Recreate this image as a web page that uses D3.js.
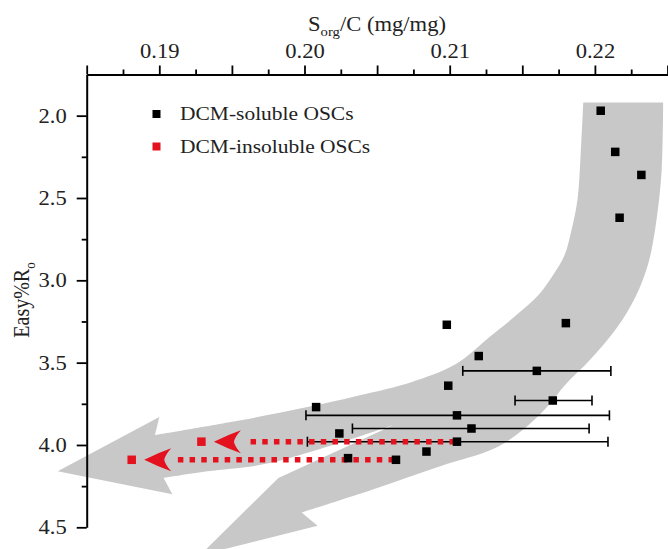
<!DOCTYPE html>
<html>
<head>
<meta charset="utf-8">
<script src="https://cdn.jsdelivr.net/npm/d3@7"></script>
<style>
    body { margin: 0; background: #fff; }
    svg { display: block; font-family: 'Liberation Serif', 'Times New Roman', serif; }
</style>
</head>
<body>
<div id="chart"></div>
<script>
// Black squares: DCM-soluble OSCs
const solubleX = [0.2204, 0.2214, 0.2232, 0.2217, 0.2180, 0.2098, 0.2120, 0.2160, 0.2099,
    0.2171, 0.2008, 0.2105, 0.2115, 0.2024, 0.2105, 0.2084, 0.2030, 0.2063];
const solubleY = [1.97, 2.22, 2.36, 2.62, 3.26, 3.27, 3.46, 3.55, 3.64,
    3.73, 3.77, 3.82, 3.90, 3.93, 3.98, 4.04, 4.08, 4.09];
// horizontal error bars (null = none)
const errLow = [null, null, null, null, null, null, null, 0.2109, null,
    0.2145, null, 0.2001, 0.2033, null, 0.2002, null, null, null];
const errHigh = [null, null, null, null, null, null, null, 0.2211, null,
    0.2198, null, 0.2210, 0.2196, null, 0.2209, null, null, null];

// Red squares: DCM-insoluble OSCs, and the soluble point each one is shifted from
const insolubleX = [0.1929, 0.1881];
const insolubleY = [3.98, 4.09];
const shiftedFrom = [14, 17];

// grey trend band (data units), traced clockwise from top-left:
// 0-1 top, 1-14 outer edge, 15-17 lower arrow head, 18-21 notch and lower shaft,
// 22-24 left arrow head, 25-38 inner edge
const bandX = [0.2192, 0.2247, 0.2246, 0.2242, 0.2237, 0.2228, 0.2215, 0.2197, 0.2179, 0.2168,
    0.2150, 0.2131, 0.2093, 0.2047, 0.1998, 0.2009, 0.1928, 0.1982, 0.2061, 0.1976,
    0.1933, 0.1903, 0.1909, 0.1830, 0.1900, 0.1897, 0.1956, 0.2002, 0.2047, 0.2073,
    0.2104, 0.2128, 0.2146, 0.2161, 0.2171, 0.2179, 0.2184, 0.2188, 0.2190];
const bandY = [1.92, 1.92, 2.33, 2.66, 2.89, 3.10, 3.29, 3.48, 3.64, 3.76,
    3.91, 4.02, 4.13, 4.27, 4.41, 4.49, 4.67, 4.20, 3.88, 4.11,
    4.16, 4.20, 4.30, 4.16, 3.83, 3.94, 3.85, 3.77, 3.68, 3.62,
    3.51, 3.34, 3.21, 3.09, 2.97, 2.85, 2.69, 2.51, 2.27];

const xMajor = [0.185, 0.19, 0.195, 0.20, 0.205, 0.21, 0.215, 0.22, 0.225];
const xLabels = [0.19, 0.20, 0.21, 0.22];
const xMinor = [0.1875, 0.1925, 0.1975, 0.2025, 0.2075, 0.2125, 0.2175, 0.2225];
const yMajor = [2.0, 2.5, 3.0, 3.5, 4.0, 4.5];
const yMinor = [2.25, 2.75, 3.25, 3.75, 4.25];

const legendItems = ['DCM-soluble OSCs', 'DCM-insoluble OSCs'];

const width = 668;
const height = 549;
const black = '#000';
const red = '#e3121e';
const grey = '#c8c8c8';
const stretch = 1.13; // the original's text is a little wide

const svg = d3.select('#chart').append('svg')
    .attr('width', width)
    .attr('height', height);

const x = d3.scaleLinear().domain([0.185, 0.225]).range([86.7, 667.5]);
const y = d3.scaleLinear().domain([1.75, 4.5]).range([74.5, 527.3]);

// grey band: smooth edges, sharp arrow heads
const pts = d3.zip(bandX, bandY).map((d) => [x(d[0]), y(d[1])]);
const smooth = d3.line().curve(d3.curveCatmullRom.alpha(0.5));
const cont = (seg) => smooth(seg).replace(/^M[^C]*/, '');
const lin = (a, b) => pts.slice(a, b).map((p) => 'L' + p).join('');
const bandPath = 'M' + pts[0] + 'L' + pts[1] +
    cont(pts.slice(1, 15)) +
    lin(15, 19) +
    cont(pts.slice(18, 22)) +
    lin(22, 26) +
    cont(pts.slice(25).concat([pts[0]])) + 'Z';
svg.append('path').attr('d', bandPath).attr('fill', grey);

// error bars
const errIdx = d3.range(solubleX.length).filter((i) => errLow[i] != null);
const err = svg.append('g').attr('stroke', black).attr('stroke-width', 1.6);
errIdx.forEach((i) => {
    const yy = y(solubleY[i]);
    err.append('line').attr('x1', x(errLow[i])).attr('x2', x(errHigh[i])).attr('y1', yy).attr('y2', yy);
    err.append('line').attr('x1', x(errLow[i])).attr('x2', x(errLow[i])).attr('y1', yy - 5).attr('y2', yy + 5);
    err.append('line').attr('x1', x(errHigh[i])).attr('x2', x(errHigh[i])).attr('y1', yy - 5).attr('y2', yy + 5);
});

// red dotted shift arrows
const shifts = svg.append('g');
insolubleX.forEach((v, k) => {
    const j = shiftedFrom[k];
    const yy = y(insolubleY[k]);
    const tip = x(v) + 12.5;
    shifts.append('line')
        .attr('x1', x(solubleX[j]) - 2).attr('x2', tip + 33)
        .attr('y1', yy).attr('y2', yy)
        .attr('stroke', red).attr('stroke-width', 5.5)
        .attr('stroke-dasharray', '5.5 6.2');
    shifts.append('path')
        .attr('transform', `translate(${tip},${yy})`)
        .attr('d', 'M0,0 Q14,-7 27,-11.5 Q21,-5 20,0 Q21,5 27,11.5 Q14,7 0,0 Z')
        .attr('fill', red);
});

// points
const sq = 8.5;
svg.append('g').selectAll('rect')
    .data(d3.range(solubleX.length))
    .join('rect')
    .attr('x', (i) => x(solubleX[i]) - sq / 2)
    .attr('y', (i) => y(solubleY[i]) - sq / 2)
    .attr('width', sq).attr('height', sq)
    .attr('fill', black);

svg.append('g').selectAll('rect')
    .data(d3.range(insolubleX.length))
    .join('rect')
    .attr('x', (i) => x(insolubleX[i]) - sq / 2)
    .attr('y', (i) => y(insolubleY[i]) - sq / 2)
    .attr('width', sq).attr('height', sq)
    .attr('fill', red);

// axes
const topAxis = svg.append('g')
    .attr('transform', `translate(0,${y(1.75)})`)
    .call(d3.axisTop(x).tickValues(xMajor).tickSize(9).tickSizeOuter(0).tickPadding(8)
        .tickFormat((d) => (xLabels.some((l) => Math.abs(l - d) < 1e-6) ? d3.format('.2f')(d) : '')));
svg.append('g')
    .attr('transform', `translate(0,${y(1.75)})`)
    .call(d3.axisTop(x).tickValues(xMinor).tickSize(5).tickFormat(''))
    .select('.domain').remove();

const leftAxis = svg.append('g')
    .attr('transform', `translate(${x(0.185)},0)`)
    .call(d3.axisLeft(y).tickValues(yMajor).tickSize(10).tickSizeOuter(0).tickPadding(10)
        .tickFormat(d3.format('.1f')));
svg.append('g')
    .attr('transform', `translate(${x(0.185)},0)`)
    .call(d3.axisLeft(y).tickValues(yMinor).tickSize(5).tickFormat(''))
    .select('.domain').remove();

svg.selectAll('.domain').attr('stroke', black).attr('stroke-width', 2);
svg.selectAll('.tick line').attr('stroke', black).attr('stroke-width', 1.8);
svg.selectAll('.tick text')
    .attr('fill', '#222')
    .style('font-family', "'Liberation Serif', serif")
    .style('font-size', '20px');
topAxis.selectAll('.tick text').attr('transform', `scale(${stretch},1)`);
leftAxis.selectAll('.tick text')
    .attr('x', -20 / stretch)
    .attr('transform', `scale(${stretch},1)`);

// axis titles
const xTitle = svg.append('text')
    .attr('transform', `translate(377,31) scale(${stretch},1)`)
    .attr('text-anchor', 'middle')
    .attr('fill', '#222')
    .style('font-size', '20px');
xTitle.append('tspan').text('S');
xTitle.append('tspan').attr('dy', 5).style('font-size', '13px').text('org');
xTitle.append('tspan').attr('dy', -5).text('/C (mg/mg)');

const yTitle = svg.append('text')
    .attr('transform', `translate(29,300) scale(${stretch},1) rotate(-90)`)
    .attr('text-anchor', 'middle')
    .attr('fill', '#222')
    .style('font-size', '20px');
yTitle.append('tspan').text('Easy%R');
yTitle.append('tspan').attr('dy', 5).style('font-size', '13px').text('o');

// legend
const legend = svg.append('g');
legendItems.forEach((name, i) => {
    const ly = 114 + i * 32.5;
    legend.append('rect')
        .attr('x', 152.5).attr('y', ly - 4)
        .attr('width', 8).attr('height', 8)
        .attr('fill', i === 0 ? black : red);
    legend.append('text')
        .attr('transform', `translate(180,${ly + 6}) scale(${stretch},1)`)
        .attr('fill', '#222')
        .style('font-size', '19px')
        .text(name);
});
</script>
</body>
</html>
